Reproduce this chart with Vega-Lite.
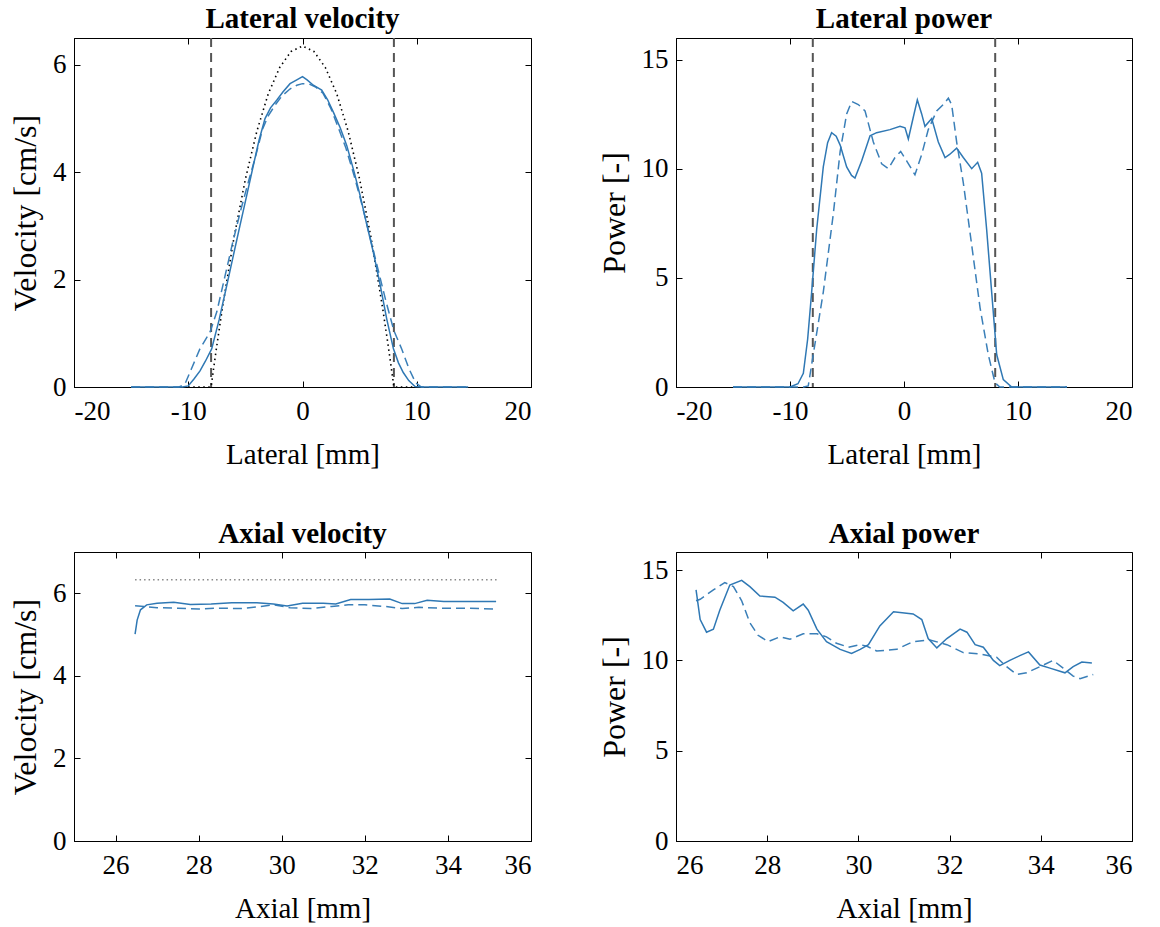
{
  "$schema": "https://vega.github.io/schema/vega-lite/v6.json",
  "background": "white",
  "padding": {"left": 9, "top": 4, "right": 5, "bottom": 5},
  "config": {
    "font": "Liberation Serif",
    "view": {"stroke": "black", "strokeWidth": 1},
    "axis": {
      "grid": false,
      "domainColor": "black",
      "tickColor": "black",
      "labelColor": "black",
      "titleColor": "black",
      "labelFont": "Liberation Serif",
      "titleFont": "Liberation Serif",
      "labelFontSize": 27,
      "titleFontSize": 29,
      "titleFontWeight": "normal",
      "tickSize": -6,
      "labelPadding": 14,
      "titlePadding": 8,
      "labelExpr": "'' + datum.value"
    },
    "axisX": {"titlePadding": 16, "labelPadding": 17},
    "axisY": {"titleFontSize": 32, "titlePadding": 10},
    "title": {"font": "Liberation Serif", "fontSize": 29, "fontWeight": "bold", "color": "black", "offset": 3},
    "line": {"strokeWidth": 1.5}
  },
  "datasets": {
    "lv_solid": [
      {"x": -15, "y": 0}, {"x": -12, "y": 0}, {"x": -10.5, "y": 0}, {"x": -10.0, "y": 0.02}, {"x": -9.5, "y": 0.15}, {"x": -8.97, "y": 0.3}, {"x": -8.5, "y": 0.48}, {"x": -7.95, "y": 0.71}, {"x": -7.3, "y": 1.25}, {"x": -6.63, "y": 1.89}, {"x": -6.0, "y": 2.5}, {"x": -5.47, "y": 3.01}, {"x": -4.9, "y": 3.55}, {"x": -4.3, "y": 4.13}, {"x": -3.8, "y": 4.6}, {"x": -3.28, "y": 5.0}, {"x": -2.8, "y": 5.2}, {"x": -2.26, "y": 5.34}, {"x": -1.7, "y": 5.5}, {"x": -1.09, "y": 5.65}, {"x": -0.5, "y": 5.72}, {"x": 0, "y": 5.78}, {"x": 0.4, "y": 5.72}, {"x": 0.95, "y": 5.62}, {"x": 1.68, "y": 5.53}, {"x": 2.2, "y": 5.35}, {"x": 2.7, "y": 5.12}, {"x": 3.3, "y": 4.83}, {"x": 3.87, "y": 4.5}, {"x": 4.5, "y": 4.02}, {"x": 5.04, "y": 3.57}, {"x": 5.6, "y": 3.05}, {"x": 6.2, "y": 2.51}, {"x": 6.8, "y": 1.9}, {"x": 7.37, "y": 1.27}, {"x": 7.96, "y": 0.71}, {"x": 8.4, "y": 0.45}, {"x": 8.82, "y": 0.27}, {"x": 9.3, "y": 0.12}, {"x": 9.85, "y": 0.01}, {"x": 10.5, "y": 0}, {"x": 12, "y": 0}, {"x": 14.5, "y": 0}
    ],
    "lv_dashed": [
      {"x": -15, "y": 0}, {"x": -10.8, "y": 0}, {"x": -10.3, "y": 0.05}, {"x": -9.7, "y": 0.35}, {"x": -9.0, "y": 0.7}, {"x": -8.1, "y": 1.02}, {"x": -7.5, "y": 1.4}, {"x": -6.8, "y": 2.05}, {"x": -6.1, "y": 2.7}, {"x": -5.4, "y": 3.3}, {"x": -4.7, "y": 3.85}, {"x": -4.1, "y": 4.3}, {"x": -3.5, "y": 4.8}, {"x": -3.0, "y": 5.05}, {"x": -2.4, "y": 5.25}, {"x": -1.8, "y": 5.42}, {"x": -1.1, "y": 5.55}, {"x": -0.5, "y": 5.62}, {"x": 0, "y": 5.65}, {"x": 0.6, "y": 5.64}, {"x": 1.2, "y": 5.58}, {"x": 1.8, "y": 5.47}, {"x": 2.5, "y": 5.18}, {"x": 3.1, "y": 4.85}, {"x": 3.8, "y": 4.45}, {"x": 4.5, "y": 3.95}, {"x": 5.2, "y": 3.4}, {"x": 5.9, "y": 2.8}, {"x": 6.6, "y": 2.2}, {"x": 7.3, "y": 1.6}, {"x": 8.0, "y": 1.05}, {"x": 8.7, "y": 0.7}, {"x": 9.3, "y": 0.35}, {"x": 9.9, "y": 0.08}, {"x": 10.4, "y": 0}, {"x": 12, "y": 0}, {"x": 14.5, "y": 0}
    ],
    "lv_theory": [
      {"x": -10, "y": 0}, {"x": -8, "y": 0}, {"x": -7.75, "y": 0.39}, {"x": -7.5, "y": 0.77}, {"x": -7, "y": 1.49}, {"x": -6, "y": 2.78}, {"x": -5, "y": 3.87}, {"x": -4, "y": 4.76}, {"x": -3, "y": 5.46}, {"x": -2, "y": 5.95}, {"x": -1, "y": 6.25}, {"x": 0, "y": 6.35}, {"x": 1, "y": 6.25}, {"x": 2, "y": 5.95}, {"x": 3, "y": 5.46}, {"x": 4, "y": 4.76}, {"x": 5, "y": 3.87}, {"x": 6, "y": 2.78}, {"x": 7, "y": 1.49}, {"x": 7.5, "y": 0.77}, {"x": 7.75, "y": 0.39}, {"x": 8, "y": 0}, {"x": 10, "y": 0}
    ],
    "walls": [{"x": -8}, {"x": 8}],
    "lp_solid": [
      {"x": -15, "y": 0}, {"x": -12, "y": 0}, {"x": -10, "y": 0}, {"x": -9.3, "y": 0.15}, {"x": -8.83, "y": 0.63}, {"x": -8.45, "y": 2.2}, {"x": -8.1, "y": 4.35}, {"x": -7.66, "y": 7.22}, {"x": -7.08, "y": 10.09}, {"x": -6.7, "y": 11.2}, {"x": -6.35, "y": 11.66}, {"x": -5.95, "y": 11.5}, {"x": -5.6, "y": 11.09}, {"x": -5.03, "y": 10.09}, {"x": -4.6, "y": 9.7}, {"x": -4.3, "y": 9.58}, {"x": -3.71, "y": 10.37}, {"x": -2.98, "y": 11.52}, {"x": -2.4, "y": 11.66}, {"x": -1.23, "y": 11.8}, {"x": -0.35, "y": 11.95}, {"x": 0.09, "y": 11.88}, {"x": 0.38, "y": 11.37}, {"x": 0.82, "y": 12.38}, {"x": 1.17, "y": 13.16}, {"x": 1.55, "y": 12.52}, {"x": 1.84, "y": 11.95}, {"x": 2.43, "y": 12.31}, {"x": 3.01, "y": 11.23}, {"x": 3.6, "y": 10.52}, {"x": 4.0, "y": 10.66}, {"x": 4.62, "y": 10.95}, {"x": 5.2, "y": 10.52}, {"x": 5.94, "y": 10.01}, {"x": 6.46, "y": 10.3}, {"x": 6.81, "y": 9.8}, {"x": 7.25, "y": 7.22}, {"x": 7.69, "y": 4.35}, {"x": 8.13, "y": 1.49}, {"x": 8.71, "y": 0.34}, {"x": 9.45, "y": 0}, {"x": 12, "y": 0}, {"x": 14.3, "y": 0}
    ],
    "lp_dashed": [
      {"x": -15, "y": 0}, {"x": -8.8, "y": 0}, {"x": -8.4, "y": 0.05}, {"x": -7.96, "y": 1.49}, {"x": -7.08, "y": 4.35}, {"x": -6.2, "y": 7.94}, {"x": -5.6, "y": 10.8}, {"x": -5.03, "y": 12.52}, {"x": -4.59, "y": 13.09}, {"x": -4.01, "y": 12.95}, {"x": -3.42, "y": 12.66}, {"x": -2.69, "y": 11.23}, {"x": -1.96, "y": 10.23}, {"x": -1.37, "y": 10.01}, {"x": -0.79, "y": 10.52}, {"x": -0.29, "y": 10.8}, {"x": 0.23, "y": 10.37}, {"x": 0.96, "y": 9.73}, {"x": 1.55, "y": 10.66}, {"x": 2.13, "y": 11.8}, {"x": 2.87, "y": 12.66}, {"x": 3.45, "y": 12.95}, {"x": 3.89, "y": 13.24}, {"x": 4.18, "y": 12.95}, {"x": 4.62, "y": 11.23}, {"x": 5.2, "y": 9.37}, {"x": 5.94, "y": 6.5}, {"x": 6.67, "y": 3.64}, {"x": 7.39, "y": 1.49}, {"x": 7.98, "y": 0.2}, {"x": 8.4, "y": 0}, {"x": 14.3, "y": 0}
    ],
    "av_solid": [
      {"x": 26.47, "y": 5.01}, {"x": 26.52, "y": 5.35}, {"x": 26.6, "y": 5.6}, {"x": 26.75, "y": 5.72}, {"x": 27.0, "y": 5.76}, {"x": 27.4, "y": 5.78}, {"x": 27.8, "y": 5.73}, {"x": 28.3, "y": 5.74}, {"x": 28.8, "y": 5.77}, {"x": 29.4, "y": 5.77}, {"x": 29.8, "y": 5.74}, {"x": 30.13, "y": 5.69}, {"x": 30.5, "y": 5.76}, {"x": 31.0, "y": 5.76}, {"x": 31.3, "y": 5.74}, {"x": 31.66, "y": 5.85}, {"x": 32.1, "y": 5.85}, {"x": 32.6, "y": 5.86}, {"x": 32.9, "y": 5.75}, {"x": 33.2, "y": 5.75}, {"x": 33.5, "y": 5.83}, {"x": 33.9, "y": 5.8}, {"x": 34.5, "y": 5.8}, {"x": 35.16, "y": 5.8}
    ],
    "av_dashed": [
      {"x": 26.47, "y": 5.7}, {"x": 26.7, "y": 5.68}, {"x": 27.0, "y": 5.65}, {"x": 27.5, "y": 5.64}, {"x": 28.0, "y": 5.62}, {"x": 28.5, "y": 5.64}, {"x": 29.0, "y": 5.63}, {"x": 29.5, "y": 5.68}, {"x": 29.8, "y": 5.72}, {"x": 30.2, "y": 5.65}, {"x": 30.7, "y": 5.63}, {"x": 31.2, "y": 5.68}, {"x": 31.6, "y": 5.72}, {"x": 32.0, "y": 5.72}, {"x": 32.5, "y": 5.68}, {"x": 32.9, "y": 5.63}, {"x": 33.3, "y": 5.66}, {"x": 33.8, "y": 5.64}, {"x": 34.3, "y": 5.64}, {"x": 34.8, "y": 5.63}, {"x": 35.16, "y": 5.62}
    ],
    "av_theory": [{"x": 26.47, "y": 6.33}, {"x": 35.2, "y": 6.33}],
    "ap_solid": [
      {"x": 26.44, "y": 13.9}, {"x": 26.53, "y": 12.26}, {"x": 26.67, "y": 11.56}, {"x": 26.82, "y": 11.73}, {"x": 26.96, "y": 12.78}, {"x": 27.18, "y": 14.17}, {"x": 27.44, "y": 14.43}, {"x": 27.62, "y": 14.08}, {"x": 27.84, "y": 13.56}, {"x": 28.17, "y": 13.5}, {"x": 28.35, "y": 13.21}, {"x": 28.57, "y": 12.74}, {"x": 28.79, "y": 13.12}, {"x": 28.9, "y": 12.78}, {"x": 29.09, "y": 11.73}, {"x": 29.3, "y": 11.04}, {"x": 29.6, "y": 10.61}, {"x": 29.85, "y": 10.38}, {"x": 30.04, "y": 10.61}, {"x": 30.22, "y": 10.87}, {"x": 30.47, "y": 11.91}, {"x": 30.77, "y": 12.69}, {"x": 31.2, "y": 12.57}, {"x": 31.39, "y": 12.26}, {"x": 31.53, "y": 11.21}, {"x": 31.72, "y": 10.69}, {"x": 31.94, "y": 11.21}, {"x": 32.23, "y": 11.73}, {"x": 32.38, "y": 11.56}, {"x": 32.56, "y": 10.87}, {"x": 32.74, "y": 10.73}, {"x": 32.96, "y": 10.0}, {"x": 33.1, "y": 9.71}, {"x": 33.32, "y": 10.0}, {"x": 33.54, "y": 10.26}, {"x": 33.73, "y": 10.47}, {"x": 33.98, "y": 9.74}, {"x": 34.2, "y": 9.57}, {"x": 34.53, "y": 9.31}, {"x": 34.71, "y": 9.65}, {"x": 34.9, "y": 9.91}, {"x": 35.12, "y": 9.86}
    ],
    "ap_dashed": [
      {"x": 26.44, "y": 13.3}, {"x": 26.53, "y": 13.38}, {"x": 26.82, "y": 13.9}, {"x": 27.07, "y": 14.31}, {"x": 27.26, "y": 14.08}, {"x": 27.44, "y": 13.3}, {"x": 27.62, "y": 12.08}, {"x": 27.8, "y": 11.39}, {"x": 28.02, "y": 11.04}, {"x": 28.28, "y": 11.3}, {"x": 28.5, "y": 11.17}, {"x": 28.79, "y": 11.47}, {"x": 29.09, "y": 11.47}, {"x": 29.3, "y": 11.3}, {"x": 29.52, "y": 10.95}, {"x": 29.78, "y": 10.73}, {"x": 30.04, "y": 10.87}, {"x": 30.19, "y": 10.78}, {"x": 30.4, "y": 10.52}, {"x": 30.84, "y": 10.61}, {"x": 31.2, "y": 11.04}, {"x": 31.57, "y": 11.13}, {"x": 31.94, "y": 10.87}, {"x": 32.3, "y": 10.43}, {"x": 32.67, "y": 10.35}, {"x": 33.03, "y": 10.17}, {"x": 33.25, "y": 9.65}, {"x": 33.47, "y": 9.22}, {"x": 33.69, "y": 9.31}, {"x": 33.98, "y": 9.65}, {"x": 34.27, "y": 10.0}, {"x": 34.49, "y": 9.57}, {"x": 34.71, "y": 9.13}, {"x": 34.86, "y": 8.99}, {"x": 35.15, "y": 9.22}
    ]
  },
  "columns": 2,
  "spacing": {"row": 165, "column": 145},
  "bounds": "flush",
  "align": "each",
  "concat": [
    {
      "width": 457, "height": 349,
      "title": "Lateral velocity",
      "resolve": {"axis": {"x": "independent", "y": "independent"}},
      "layer": [
        {
          "data": {"name": "walls"},
          "mark": {"type": "rule", "color": "#555555", "strokeWidth": 2, "strokeDash": [9, 6]},
          "encoding": {"x": {"field": "x", "type": "quantitative", "scale": {"domain": [-20, 20]}, "axis": {"values": [-20, -10, 0, 10, 20], "title": "Lateral [mm]"}}}
        },
        {
          "data": {"name": "lv_theory"},
          "mark": {"type": "line", "color": "black", "strokeDash": [1.5, 3.5], "strokeWidth": 1.6},
          "encoding": {
            "x": {"field": "x", "type": "quantitative", "axis": null},
            "y": {"field": "y", "type": "quantitative", "scale": {"domain": [0, 6.5]}, "axis": {"values": [0, 2, 4, 6], "title": "Velocity [cm/s]"}}
          }
        },
        {
          "data": {"name": "lv_dashed"},
          "mark": {"type": "line", "color": "#3a7fb8", "strokeDash": [9, 5]},
          "encoding": {
            "x": {"field": "x", "type": "quantitative", "axis": {"orient": "top", "values": [-20, -10, 0, 10, 20], "labels": false, "title": null, "domain": false}},
            "y": {"field": "y", "type": "quantitative", "axis": {"orient": "right", "values": [0, 2, 4, 6], "labels": false, "title": null, "domain": false}}
          }
        },
        {
          "data": {"name": "lv_solid"},
          "mark": {"type": "line", "color": "#2f78b4"},
          "encoding": {"x": {"field": "x", "type": "quantitative", "axis": null}, "y": {"field": "y", "type": "quantitative", "axis": null}}
        }
      ]
    },
    {
      "width": 456, "height": 349,
      "title": "Lateral power",
      "resolve": {"axis": {"x": "independent", "y": "independent"}},
      "layer": [
        {
          "data": {"name": "walls"},
          "mark": {"type": "rule", "color": "#555555", "strokeWidth": 2, "strokeDash": [9, 6]},
          "encoding": {"x": {"field": "x", "type": "quantitative", "scale": {"domain": [-20, 20]}, "axis": {"values": [-20, -10, 0, 10, 20], "title": "Lateral [mm]"}}}
        },
        {
          "data": {"name": "lp_dashed"},
          "mark": {"type": "line", "color": "#3a7fb8", "strokeDash": [9, 5]},
          "encoding": {
            "x": {"field": "x", "type": "quantitative", "axis": {"orient": "top", "values": [-20, -10, 0, 10, 20], "labels": false, "title": null, "domain": false}},
            "y": {"field": "y", "type": "quantitative", "scale": {"domain": [0, 15]}, "axis": {"values": [0, 5, 10, 15], "title": "Power [-]"}}
          }
        },
        {
          "data": {"name": "lp_solid"},
          "mark": {"type": "line", "color": "#2f78b4"},
          "encoding": {
            "x": {"field": "x", "type": "quantitative", "axis": null},
            "y": {"field": "y", "type": "quantitative", "axis": {"orient": "right", "values": [0, 5, 10, 15], "labels": false, "title": null, "domain": false}}
          }
        }
      ]
    },
    {
      "width": 457, "height": 289,
      "title": "Axial velocity",
      "resolve": {"axis": {"x": "independent", "y": "independent"}},
      "layer": [
        {
          "data": {"name": "av_theory"},
          "mark": {"type": "line", "color": "#888888", "strokeDash": [1.5, 3], "strokeWidth": 1.5},
          "encoding": {
            "x": {"field": "x", "type": "quantitative", "scale": {"domain": [25, 36]}, "axis": {"values": [26, 28, 30, 32, 34, 36], "title": "Axial [mm]"}},
            "y": {"field": "y", "type": "quantitative", "scale": {"domain": [0, 7]}, "axis": {"values": [0, 2, 4, 6], "title": "Velocity [cm/s]"}}
          }
        },
        {
          "data": {"name": "av_dashed"},
          "mark": {"type": "line", "color": "#3a7fb8", "strokeDash": [9, 5]},
          "encoding": {
            "x": {"field": "x", "type": "quantitative", "axis": {"orient": "top", "values": [26, 28, 30, 32, 34, 36], "labels": false, "title": null, "domain": false}},
            "y": {"field": "y", "type": "quantitative", "axis": {"orient": "right", "values": [0, 2, 4, 6], "labels": false, "title": null, "domain": false}}
          }
        },
        {
          "data": {"name": "av_solid"},
          "mark": {"type": "line", "color": "#2f78b4"},
          "encoding": {"x": {"field": "x", "type": "quantitative", "axis": null}, "y": {"field": "y", "type": "quantitative", "axis": null}}
        }
      ]
    },
    {
      "width": 456, "height": 289,
      "title": "Axial power",
      "resolve": {"axis": {"x": "independent", "y": "independent"}},
      "layer": [
        {
          "data": {"name": "ap_dashed"},
          "mark": {"type": "line", "color": "#3a7fb8", "strokeDash": [9, 5]},
          "encoding": {
            "x": {"field": "x", "type": "quantitative", "scale": {"domain": [26, 36]}, "axis": {"values": [26, 28, 30, 32, 34, 36], "title": "Axial [mm]"}},
            "y": {"field": "y", "type": "quantitative", "scale": {"domain": [0, 15]}, "axis": {"values": [0, 5, 10, 15], "title": "Power [-]"}}
          }
        },
        {
          "data": {"name": "ap_solid"},
          "mark": {"type": "line", "color": "#2f78b4"},
          "encoding": {
            "x": {"field": "x", "type": "quantitative", "axis": {"orient": "top", "values": [26, 28, 30, 32, 34, 36], "labels": false, "title": null, "domain": false}},
            "y": {"field": "y", "type": "quantitative", "axis": {"orient": "right", "values": [0, 5, 10, 15], "labels": false, "title": null, "domain": false}}
          }
        }
      ]
    }
  ]
}
